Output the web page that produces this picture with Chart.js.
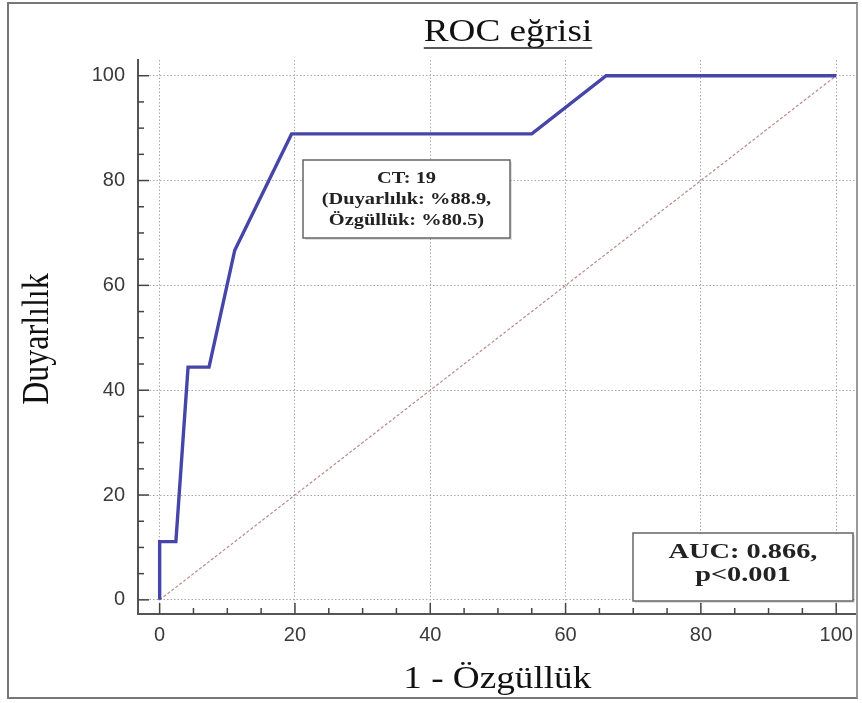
<!DOCTYPE html>
<html>
<head>
<meta charset="utf-8">
<script src="https://cdn.jsdelivr.net/npm/chart.js@4.4.1/dist/chart.umd.min.js"></script>
<style>
  html, body { margin: 0; padding: 0; background: #fff; }
  #wrap { position: relative; width: 862px; height: 703px; }
  #frame { position: absolute; left: 7px; top: 2px; width: 851px; height: 697px; border: 2px solid #777; border-right-color: #999; box-sizing: border-box; pointer-events: none; }
  canvas { position: absolute; left: 0; top: 0; }
</style>
</head>
<body>
<div id="wrap">
  <canvas id="c" width="862" height="703"></canvas>
  <div id="frame"></div>
</div>
<script>
// ---- data ----
const rocX = [0, 0, 2.4, 4.2, 7.3, 11.1, 19.5, 55.0, 66.0, 100];
const rocY = [0, 11.1, 11.1, 44.4, 44.4, 66.7, 88.9, 88.9, 100, 100];
const refX = [0, 100];
const refY = [0, 100];
const majorTicks = [0, 20, 40, 60, 80, 100];
const minorTicks = [5, 10, 15, 25, 30, 35, 45, 50, 55, 65, 70, 75, 85, 90, 95];
const titleText = 'ROC eğrisi';
const xTitle = '1 - Özgüllük';
const yTitle = 'Duyarlılık';
const cutoffLines = ['CT: 19', '(Duyarlılık: %88.9,', 'Özgüllük: %80.5)'];
const aucLines = ['AUC: 0.866,', 'p<0.001'];

const serif = '"Liberation Serif", "DejaVu Serif", serif';
const sans = '"Liberation Sans", Arial, sans-serif';
const STRETCH = 1.2;

function stretchedText(ctx, text, x, y, font, sx, rot) {
  ctx.save();
  ctx.translate(x, y);
  if (rot) ctx.rotate(rot);
  ctx.scale(sx, 1);
  ctx.font = font;
  ctx.fillText(text, 0, 0);
  const w = ctx.measureText(text).width * sx;
  ctx.restore();
  return w;
}

const decorPlugin = {
  id: 'decor',
  afterDraw(chart) {
    const ctx = chart.ctx;
    const xs = chart.scales.x, ys = chart.scales.y;
    const area = chart.chartArea;
    ctx.save();
    // inward tick marks
    ctx.strokeStyle = '#444';
    ctx.lineWidth = 1.5;
    const drawTicks = (vals, len) => {
      vals.forEach(v => {
        const px = xs.getPixelForValue(v);
        ctx.beginPath(); ctx.moveTo(px, area.bottom); ctx.lineTo(px, area.bottom - len); ctx.stroke();
        const py = ys.getPixelForValue(v);
        ctx.beginPath(); ctx.moveTo(area.left, py); ctx.lineTo(area.left + len, py); ctx.stroke();
      });
    };
    drawTicks(majorTicks, 11);
    drawTicks(minorTicks, 6);

    ctx.fillStyle = '#111';
    ctx.textAlign = 'center';
    ctx.textBaseline = 'alphabetic';
    // title with underline
    const tx = 508, ty = 41;
    const tw = stretchedText(ctx, titleText, tx, ty, '31px ' + serif, STRETCH, 0);
    ctx.strokeStyle = '#222';
    ctx.lineWidth = 1.5;
    ctx.beginPath(); ctx.moveTo(tx - tw / 2, ty + 7); ctx.lineTo(tx + tw / 2, ty + 7); ctx.stroke();

    // axis titles
    ctx.textBaseline = 'middle';
    stretchedText(ctx, xTitle, (area.left + area.right) / 2, 680, '31px ' + serif, STRETCH, 0);
    ctx.save();
    ctx.translate(38, (area.top + area.bottom) / 2 + 2);
    ctx.scale(STRETCH, 1);
    ctx.rotate(-Math.PI / 2);
    ctx.font = '32px ' + serif;
    ctx.fillText(yTitle, 0, 0);
    ctx.restore();

    // annotation boxes
    const box = (x, y, w, h, lines, size, sx, lh, firstY) => {
      ctx.fillStyle = 'rgba(0,0,0,0.12)';
      ctx.fillRect(x + 2, y + 2, w, h);
      ctx.fillStyle = '#fff';
      ctx.fillRect(x, y, w, h);
      ctx.strokeStyle = '#666';
      ctx.lineWidth = 1.5;
      ctx.strokeRect(x, y, w, h);
      ctx.fillStyle = '#222';
      ctx.textAlign = 'center';
      ctx.textBaseline = 'middle';
      lines.forEach((t, i) => stretchedText(ctx, t, x + w / 2, firstY + i * lh, 'bold ' + size + 'px ' + serif, sx, 0));
    };
    box(303, 160, 207, 78, cutoffLines, 17, 1.2, 21, 179);
    box(633, 533, 220, 68, aucLines, 21, 1.35, 23, 553);
    ctx.restore();
  }
};

new Chart(document.getElementById('c'), {
  type: 'scatter',
  data: {
    datasets: [
      {
        label: 'ref',
        data: refX.map((x, i) => ({x, y: refY[i]})),
        showLine: true,
        borderColor: '#b98a8a',
        borderWidth: 1.2,
        borderDash: [3, 2],
        pointRadius: 0,
        order: 2
      },
      {
        label: 'ROC',
        data: rocX.map((x, i) => ({x, y: rocY[i]})),
        showLine: true,
        borderColor: '#4646a8',
        borderWidth: 3.4,
        pointRadius: 0,
        tension: 0,
        order: 1
      }
    ]
  },
  options: {
    responsive: false,
    animation: false,
    layout: { padding: { top: 60, right: 4, left: 0, bottom: 0 } },
    plugins: { legend: { display: false }, tooltip: { enabled: false }, title: { display: false } },
    scales: {
      x: {
        type: 'linear',
        min: -3.2,
        max: 103,
        afterBuildTicks: s => { s.ticks = majorTicks.map(v => ({value: v})); },
        afterFit: s => { s.height = 89; },
        grid: { color: '#a8a8a8', lineWidth: 1, drawTicks: false },
        border: { display: true, color: '#555', width: 2, dash: [1.5, 2] },
        ticks: { color: '#3a3a3a', font: { family: sans, size: 20 }, padding: 9, maxRotation: 0 },
        title: { display: false }
      },
      y: {
        type: 'linear',
        min: -2.7,
        max: 103,
        afterBuildTicks: s => { s.ticks = majorTicks.map(v => ({value: v})); },
        afterFit: s => { s.width = 138; },
        grid: { color: '#a8a8a8', lineWidth: 1, drawTicks: false },
        border: { display: true, color: '#555', width: 2, dash: [1.5, 2] },
        ticks: { color: '#3a3a3a', font: { family: sans, size: 20 }, padding: 13 },
        title: { display: false }
      }
    }
  },
  plugins: [decorPlugin]
});
</script>
</body>
</html>
